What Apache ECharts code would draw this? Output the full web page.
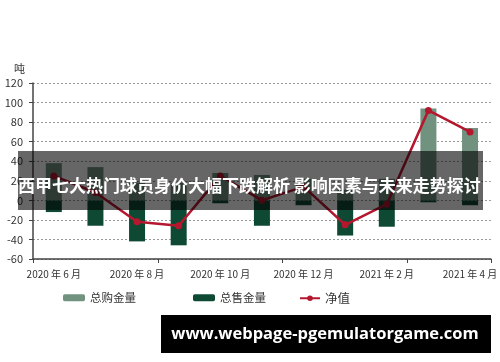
<!DOCTYPE html>
<html><head><meta charset="utf-8">
<script src="https://cdn.jsdelivr.net/npm/echarts@6/dist/echarts.min.js"></script>
<style>html,body{margin:0;padding:0;background:#fff}#c{width:500px;height:362px}</style>
</head><body><div id="c"></div>
<script>
var months = ['2020 年 6 月','2020 年 7 月','2020 年 8 月','2020 年 9 月','2020 年 10 月','2020 年 11 月','2020 年 12 月','2021 年 1 月','2021 年 2 月','2021 年 3 月','2021 年 4 月'];
var purchase = [38, 34, 18, 18, 28, 26, 22, 11, 22, 94, 74];
var sales = [-12, -26, -42, -46, -3, -26, -5, -36, -27, -2, -5];
var net = [25, 8, -22, -26, 25, 0, 14, -25, -4, 92, 70];
var yTicks = {min: -60, max: 120, interval: 20};
var titleText = '西甲七大热门球员身价大幅下跌解析 影响因素与未来走势探讨';
var watermark = 'www.webpage-pgemulatorgame.com';

var FONT = '"Noto Sans CJK SC", "Noto Sans", sans-serif';
var chart = echarts.init(document.getElementById('c'));
var lg = {itemWidth: 22, itemHeight: 7, textStyle: {fontSize: 11.5, color: '#333', fontFamily: FONT}};
chart.setOption({
  animation: false,
  textStyle: {fontFamily: FONT},
  grid: {left: 33, right: 3, top: 83, bottom: 103},
  legend: [
    Object.assign({left: 58, top: 287, data: ['总购金量']}, lg),
    Object.assign({left: 188, top: 287, data: ['总售金量']}, lg),
    {left: 294, top: 287, itemWidth: 20, itemHeight: 7, data: ['净值'], textStyle: {fontSize: 12.5, color: '#333', fontFamily: FONT}}
  ],
  xAxis: [
    {type: 'category', data: months, position: 'bottom',
     axisLine: {show: false}, axisTick: {show: false},
     axisLabel: {interval: 1, fontSize: 10, color: '#333', margin: 10}},
    {type: 'category', data: months, position: 'bottom',
     axisLine: {onZero: true, lineStyle: {color: '#444', width: 1.5}},
     axisTick: {show: true, length: 4, lineStyle: {color: '#444'}},
     axisLabel: {show: false}}
  ],
  yAxis: {type: 'value', min: yTicks.min, max: yTicks.max, interval: yTicks.interval,
    name: '吨', nameGap: 9, nameTextStyle: {fontSize: 11, color: '#333', align: 'right', padding: [0, 8, 0, 0]},
    axisLine: {show: true, lineStyle: {color: '#444', width: 1.5}},
    axisTick: {show: true, length: 4, lineStyle: {color: '#444'}},
    axisLabel: {fontSize: 11, color: '#333', margin: 10},
    splitLine: {show: true, lineStyle: {color: '#999', type: [2, 2], width: 1}}
  },
  series: [
    {name: '总购金量', type: 'bar', data: purchase, barWidth: 16, barGap: '-100%', itemStyle: {color: '#71927f'}},
    {name: '总售金量', type: 'bar', data: sales, barWidth: 16, itemStyle: {color: '#0e4a33'}},
    {name: '净值', type: 'line', data: net, symbol: 'circle', symbolSize: 7,
     lineStyle: {color: '#b5172f', width: 2.5}, itemStyle: {color: '#b5172f'}, z: 5}
  ],
  graphic: [
    {type: 'rect', shape: {x: 18, y: 151, width: 465, height: 59}, style: {fill: 'rgba(0,0,0,0.6)'}, z: 100},
    {type: 'text', x: 18, y: 186, style: {text: titleText, fill: '#fff', font: 'bold 17px ' + FONT, textVerticalAlign: 'middle'}, z: 101},
    {type: 'rect', shape: {x: 161, y: 315, width: 330, height: 38}, style: {fill: '#000'}, z: 100},
    {type: 'text', x: 325, y: 334, style: {text: watermark, fill: '#fff', font: 'bold 16.5px "Open Sans", sans-serif', textAlign: 'center', textVerticalAlign: 'middle'}, z: 101}
  ]
});
</script></body></html>
